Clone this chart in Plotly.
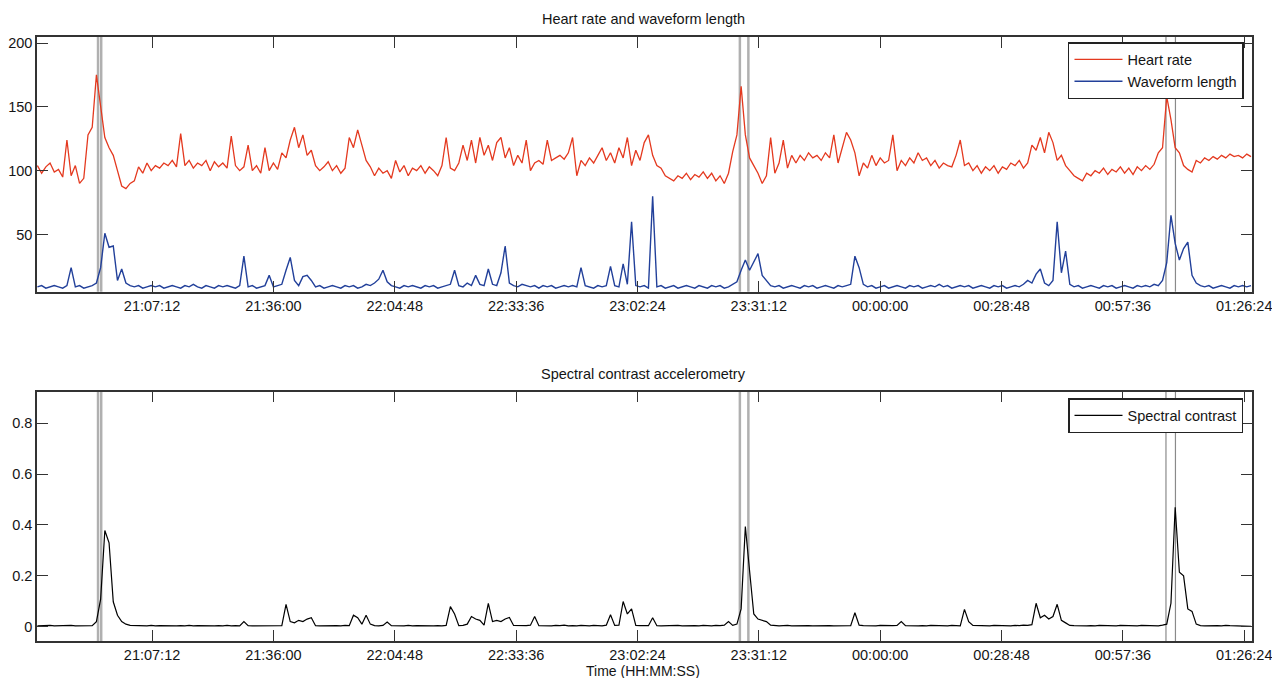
import pandas as pd
import plotly.graph_objects as go

START = "2000-01-01 20:40:00"

heart_rate = [
    104, 98, 103, 106, 99, 101, 95, 124, 96, 104,
    90, 94, 128, 134, 175, 150, 126, 118, 112, 100,
    88, 86, 90, 92, 103, 98, 106, 100, 104, 102,
    106, 104, 108, 103, 129, 104, 108, 102, 106, 104,
    108, 100, 107, 103, 106, 102, 127, 104, 100, 103,
    120, 100, 104, 98, 118, 100, 106, 101, 114, 110,
    124, 134, 118, 128, 112, 116, 104, 100, 103, 107,
    100, 104, 98, 102, 126, 118, 132, 120, 108, 103,
    96, 102, 98, 100, 94, 108, 99, 104, 96, 102,
    100, 104, 98, 103, 100, 96, 104, 126, 102, 100,
    106, 120, 108, 124, 106, 126, 112, 120, 108, 122,
    126, 110, 118, 104, 112, 106, 124, 100, 106, 108,
    105, 124, 108, 110, 112, 109, 114, 126, 96, 108,
    104, 110, 106, 112, 118, 108, 114, 106, 118, 110,
    126, 104, 116, 108, 122, 128, 112, 104, 102, 96,
    94, 92, 96, 94, 98, 93, 97, 95, 99, 94,
    98, 92, 96, 90, 98, 115, 128, 166, 128, 110,
    104, 98, 90, 96, 126, 98, 106, 124, 102, 112,
    106, 112, 108, 114, 110, 112, 108, 114, 110, 128,
    106, 118, 130, 124, 114, 96, 106, 102, 112, 104,
    110, 106, 108, 128, 100, 108, 104, 110, 106, 114,
    108, 110, 104, 108, 102, 106, 104, 103, 112, 124,
    104, 106, 100, 104, 98, 103, 100, 104, 98, 103,
    101, 106, 104, 108, 102, 106, 120, 116, 126, 114,
    130, 122, 108, 112, 104, 100, 96, 94, 92, 98,
    96, 100, 98, 102, 97, 101, 99, 103, 98, 102,
    97, 103, 100, 104, 101, 105, 114, 118, 158, 140,
    118, 114, 104, 101, 99, 108, 106, 110, 108, 111,
    109, 112, 110, 113, 111, 112, 110, 113, 111,
]

waveform_length = [
    9, 10, 8, 9, 10, 9, 8, 10, 24, 9,
    10, 8, 9, 10, 12, 24, 51, 40, 41, 14,
    23, 12, 10, 9, 10, 8, 9, 10, 9, 10,
    8, 9, 10, 9, 8, 10, 9, 11, 9, 8,
    10, 9, 8, 10, 9, 10, 9, 8, 10, 33,
    9, 10, 8, 9, 10, 18, 9, 10, 11, 22,
    32, 14, 10, 17, 18, 14, 9, 10, 8, 9,
    10, 9, 8, 10, 9, 10, 8, 9, 11, 10,
    12, 15, 22, 13, 10, 9, 8, 10, 9, 10,
    9, 8, 10, 9, 10, 8, 9, 10, 11, 22,
    10, 9, 12, 10, 18, 11, 10, 23, 11, 10,
    20, 41, 12, 10, 9, 11, 10, 9, 10, 8,
    10, 9, 10, 8, 9, 10, 9, 10, 9, 24,
    10, 9, 8, 10, 9, 10, 25, 10, 9, 27,
    11, 60, 10, 9, 10, 8, 80, 9, 10, 8,
    9, 10, 8, 9, 10, 9, 8, 10, 9, 8,
    10, 9, 10, 8, 9, 11, 13, 22, 30, 22,
    28, 35, 18, 14, 10, 9, 10, 8, 9, 10,
    9, 8, 10, 9, 10, 8, 9, 10, 9, 8,
    10, 9, 10, 11, 33, 24, 11, 9, 10, 8,
    9, 10, 8, 9, 10, 9, 8, 10, 9, 10,
    8, 9, 10, 9, 11, 9, 10, 8, 9, 10,
    9, 10, 8, 9, 10, 9, 8, 10, 9, 10,
    8, 9, 10, 9, 11, 14, 12, 19, 23, 12,
    10, 14, 60, 20, 37, 11, 9, 10, 8, 9,
    10, 9, 8, 10, 9, 10, 8, 9, 10, 9,
    8, 10, 9, 10, 9, 11, 10, 14, 28, 65,
    43, 30, 39, 44, 18, 12, 10, 9, 10, 8,
    9, 10, 9, 8, 10, 9, 10, 9, 10,
]

spectral_contrast = [
    .003, .004, .003, .005, .003, .004, .003, .004, .005, .003,
    .004, .003, .005, .004, .02, .108, .378, .33, .098, .045,
    .02, .01, .005, .004, .003, .004, .003, .005, .003, .004,
    .003, .004, .003, .003, .004, .003, .005, .003, .004, .003,
    .004, .003, .003, .004, .003, .005, .003, .004, .003, .02,
    .004, .003, .003, .004, .003, .004, .003, .005, .004, .088,
    .02, .015, .025, .02, .03, .035, .004, .003, .004, .003,
    .003, .004, .003, .005, .004, .045, .035, .01, .045, .01,
    .004, .003, .005, .018, .004, .003, .004, .003, .005, .003,
    .004, .003, .003, .004, .003, .004, .003, .005, .079, .05,
    .004, .005, .01, .04, .03, .025, .006, .092, .02, .025,
    .02, .03, .036, .005, .004, .003, .004, .006, .04, .004,
    .003, .004, .003, .005, .004, .006, .003, .004, .003, .005,
    .004, .003, .005, .004, .003, .006, .047, .005, .006, .099,
    .05, .07, .005, .004, .003, .004, .035, .004, .003, .004,
    .003, .004, .005, .003, .004, .003, .004, .003, .005, .004,
    .003, .005, .004, .006, .02, .005, .01, .07, .394, .22,
    .05, .03, .025, .02, .006, .004, .003, .004, .005, .003,
    .004, .003, .005, .004, .003, .004, .003, .005, .004, .003,
    .004, .003, .005, .004, .055, .006, .004, .003, .004, .003,
    .005, .004, .003, .004, .005, .02, .004, .003, .004, .003,
    .004, .003, .005, .004, .003, .004, .003, .005, .004, .003,
    .068, .02, .005, .004, .003, .004, .003, .005, .004, .003,
    .004, .003, .005, .004, .006, .005, .008, .092, .035, .045,
    .03, .04, .088, .025, .015, .005, .004, .003, .004, .003,
    .004, .003, .005, .004, .003, .004, .003, .005, .004, .003,
    .004, .003, .005, .004, .003, .004, .003, .006, .01, .092,
    .47, .214, .2, .07, .06, .01, .004, .003, .004, .003,
    .004, .003, .005, .004, .003, .004, .003, .002, .001,
]

tick_labels = ["21:07:12", "21:36:00", "22:04:48", "22:33:36", "23:02:24",
               "23:31:12", "00:00:00", "00:28:48", "00:57:36", "01:26:24"]

event_times = ["2000-01-01 20:54:23", "2000-01-01 20:55:08",
               "2000-01-01 23:26:42", "2000-01-01 23:28:43",
               "2000-01-02 01:07:49", "2000-01-02 01:10:04"]

hr_ticks = [50, 100, 150, 200]
sc_ticks = [0, 0.2, 0.4, 0.6, 0.8]
sc_tick_text = ["0", "0.2", "0.4", "0.6", "0.8"]

times = pd.date_range(START, periods=len(heart_rate), freq="1min")


def tick_date(lbl):
    day = "2000-01-01" if int(lbl[:2]) >= 12 else "2000-01-02"
    return f"{day} {lbl}"


tickvals = [tick_date(l) for l in tick_labels]
x_range = ["2000-01-01 20:39:54", "2000-01-02 01:28:14"]

FONT = "Liberation Sans, Arial, sans-serif"
AX = "#333333"
TXT = "#151515"

fig = go.Figure()
fig.add_trace(go.Scatter(x=times, y=heart_rate, mode="lines", name="Heart rate",
                         line=dict(color="#e4391f", width=1.3), xaxis="x", yaxis="y",
                         legend="legend"))
fig.add_trace(go.Scatter(x=times, y=waveform_length, mode="lines", name="Waveform length",
                         line=dict(color="#22409a", width=1.4),
                         xaxis="x", yaxis="y", legend="legend"))
fig.add_trace(go.Scatter(x=times, y=spectral_contrast, mode="lines", name="Spectral contrast",
                         line=dict(color="#000000", width=1.2),
                         xaxis="x2", yaxis="y2", legend="legend2"))

common_x = dict(type="date", range=x_range, tickvals=tickvals, ticktext=tick_labels,
                ticks="inside", ticklen=11, tickwidth=1.2, tickcolor=AX,
                showline=True, linecolor=AX, linewidth=1.5, mirror="ticks",
                showgrid=False, zeroline=False, automargin=False,
                ticklabeloverflow="allow")
common_y = dict(ticks="inside", ticklen=11, tickwidth=1.2, tickcolor=AX,
                showline=True, linecolor=AX, linewidth=1.5, mirror="ticks",
                showgrid=False, zeroline=False, automargin=False,
                ticklabeloverflow="allow")

shapes = []
for k, t in enumerate(event_times):
    last = k >= 4
    for xr, yr in (("x", "y domain"), ("x2", "y2 domain")):
        shapes.append(dict(type="line", xref=xr, yref=yr, x0=t, x1=t, y0=0, y1=1,
                           layer="below",
                           line=dict(color="#8a8a8a" if last else "#b0b0b0",
                                     width=1.2 if last else 2.5)))

legend_common = dict(bordercolor="#222222", borderwidth=1.5, bgcolor="white",
                     font=dict(family=FONT, size=14.5, color=TXT),
                     itemwidth=48, xanchor="right", yanchor="top", tracegroupgap=0)

fig.update_layout(
    paper_bgcolor="white", plot_bgcolor="white",
    margin=dict(l=29, r=20, t=29, b=37, autoexpand=False),
    font=dict(family=FONT, size=14.5, color=TXT),
    showlegend=True,
    xaxis=dict(domain=[0, 1], anchor="y", **common_x),
    yaxis=dict(domain=[0.5783, 1], anchor="x", range=[5.2, 204.7], tickvals=hr_ticks, **common_y),
    xaxis2=dict(domain=[0, 1], anchor="y2", **common_x),
    yaxis2=dict(domain=[0, 0.4127], anchor="x2", range=[-0.0563, 0.924], tickvals=sc_ticks,
                ticktext=sc_tick_text, **common_y),
    legend=dict(x=0.9934, y=0.9917, **legend_common),
    legend2=dict(x=0.9926, y=0.4023, **legend_common),
    shapes=shapes,
    annotations=[
        dict(text="Heart rate and waveform length", xref="paper", yref="paper",
             x=0.4988, y=1.0298, xanchor="center", yanchor="middle", showarrow=False,
             font=dict(family=FONT, size=14.5, color=TXT)),
        dict(text="Spectral contrast accelerometry", xref="paper", yref="paper",
             x=0.4988, y=0.442, xanchor="center", yanchor="middle", showarrow=False,
             font=dict(family=FONT, size=14.5, color=TXT)),
        dict(text="Time (HH:MM:SS)", xref="paper", yref="paper",
             x=0.4988, y=-0.0497, xanchor="center", yanchor="middle", showarrow=False,
             font=dict(family=FONT, size=14, color=TXT)),
    ],
)

fig.write_html("out.html")
